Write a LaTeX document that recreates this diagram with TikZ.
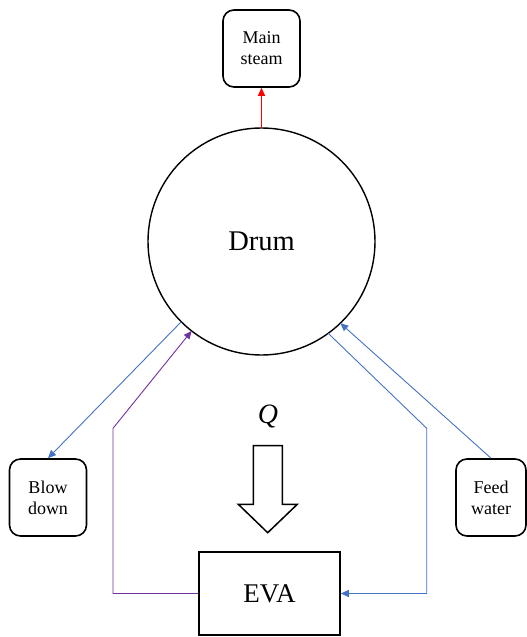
\documentclass[tikz,border=0pt]{standalone}
\usepackage{fontspec}
\setmainfont{Liberation Serif}
\usetikzlibrary{arrows.meta,shapes.geometric}
\definecolor{flowblue}{RGB}{68,114,196}
\definecolor{flowpurple}{RGB}{112,48,160}
\begin{document}
\begin{tikzpicture}[x=1pt,y=-1pt,
  rbox/.style={draw,line width=1.6pt,rounded corners=11pt,minimum width=77pt,minimum height=77pt,inner sep=0pt,align=center,font=\fontsize{18}{21}\selectfont},
  sqbox/.style={draw,line width=1.6pt,inner sep=0pt,font=\fontsize{27}{30}\selectfont},
  tip/.style={-{Triangle[length=8pt,width=7pt]}},
  conn/.style={line width=0.9pt,tip}]
\useasboundingbox (0,0) rectangle (527,637);
\node[rbox] (steam) at (261.5,48.5) {Main\\steam};
\node[circle,draw,line width=1.4pt,minimum size=227pt,inner sep=0pt,outer sep=0pt,font=\fontsize{28.5}{30}\selectfont] (drum) at (261.5,241.5) {Drum};
\node[rbox] (blow) at (48,497.5) {Blow\\down};
\node[rbox,minimum width=70pt] (feed) at (491,497.5) {Feed\\water};
\node[sqbox,minimum width=141pt,minimum height=83pt] (eva) at (269.5,593.5) {EVA};
\node[font=\fontsize{28}{30}\selectfont\itshape] (q) at (268,416) {Q};
\draw[line width=1.5pt] (253.3,445.7) -- (282.3,445.7) -- (282.3,504.3) -- (297.3,504.3) -- (267.7,532.7) -- (238.3,504.3) -- (253.3,504.3) -- cycle;
\draw[conn,red] (drum.north) -- (steam.south);
\draw[conn,flowblue] (drum.225.5) -- (blow.north);
\coordinate (pbend) at (113,428.3);
\draw[conn,flowpurple] (eva.west) -| (pbend) -- (drum.232.8);
\coordinate (bbend) at (426.7,428.3);
\draw[conn,flowblue] (drum.306.7) -- (bbend) |- (eva.east);
\draw[conn,flowblue] (feed.north) -- (drum.314.4);
\end{tikzpicture}
\end{document}
